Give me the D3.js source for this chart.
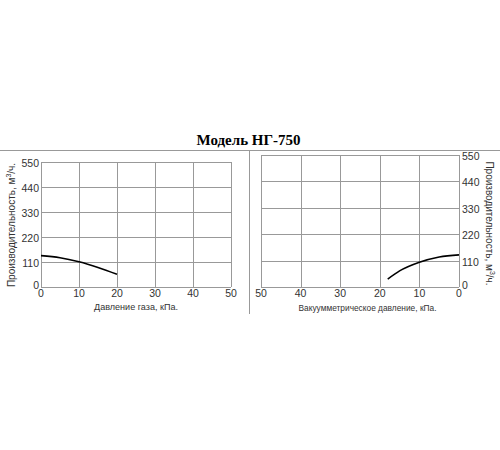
<!DOCTYPE html>
<html>
<head>
<meta charset="utf-8">
<script src="https://cdn.jsdelivr.net/npm/d3@7"></script>
<style>
  body { margin: 0; background: #fff; }
  text { font-family: Arial, "Liberation Sans", sans-serif; }
</style>
</head>
<body>
<script>
// chart data
const xTicks = [0, 10, 20, 30, 40, 50];
const yTicks = [0, 110, 220, 330, 440, 550];
const gasPressure = [0, 5, 10, 15, 20];
const gasFlow = [138, 129, 111, 86, 56];
const vacPressure = [0, 5, 10, 15, 18];
const vacFlow = [134, 125, 103, 67, 33];

const width = 500, height = 450;
const gridColor = '#999';
const labelColor = '#333';

var svg = d3.select('body')
    .append('svg')
    .attr('width', width)
    .attr('height', height);

// title + separators
svg.append('text')
    .attr('x', 248.5)
    .attr('y', 145)
    .attr('text-anchor', 'middle')
    .style('font-family', '"Times New Roman", "Liberation Serif", serif')
    .attr('font-weight', 'bold')
    .attr('font-size', 15)
    .attr('fill', '#000')
    .text('Модель НГ-750');

svg.append('line')
    .attr('x1', 0).attr('x2', width)
    .attr('y1', 150.5).attr('y2', 150.5)
    .attr('stroke', gridColor);

svg.append('line')
    .attr('x1', 249.5).attr('x2', 249.5)
    .attr('y1', 150).attr('y2', 314)
    .attr('stroke', gridColor);

function drawPanel(p) {
    var x = d3.scaleLinear().domain(p.xDomain).range([p.left, p.right]);
    var y = d3.scaleLinear().domain([0, 550]).range([p.bottom, p.top]);
    var g = svg.append('g');

    // grid
    g.selectAll('.vgrid')
        .data(xTicks)
        .join('line')
        .attr('x1', d => Math.round(x(d)) + 0.5)
        .attr('x2', d => Math.round(x(d)) + 0.5)
        .attr('y1', p.top).attr('y2', p.bottom)
        .attr('stroke', gridColor);

    g.selectAll('.hgrid')
        .data(yTicks)
        .join('line')
        .attr('x1', p.left).attr('x2', p.right)
        .attr('y1', d => Math.round(y(d)) + 0.5)
        .attr('y2', d => Math.round(y(d)) + 0.5)
        .attr('stroke', gridColor);

    // tick labels
    g.selectAll('.xlab')
        .data(xTicks)
        .join('text')
        .attr('x', d => x(d))
        .attr('y', p.bottom + 9.5)
        .attr('text-anchor', 'middle')
        .attr('font-size', 10.5)
        .attr('fill', labelColor)
        .text(d => d);

    g.selectAll('.ylab')
        .data(yTicks)
        .join('text')
        .attr('x', p.yLabelX)
        .attr('y', d => y(d) + (d == 0 ? 1.5 : 5))
        .attr('text-anchor', p.yAnchor)
        .attr('font-size', 10.5)
        .attr('fill', labelColor)
        .text(d => d);

    // curve
    var line = d3.line()
        .x(d => x(d[0]))
        .y(d => y(d[1]))
        .curve(d3.curveMonotoneX);

    g.append('path')
        .datum(d3.zip(p.xs, p.ys))
        .attr('d', line)
        .attr('fill', 'none')
        .attr('stroke', '#000')
        .attr('stroke-width', 1.6);

    // axis titles
    g.append('text')
        .attr('x', p.xTitleX)
        .attr('y', p.xTitleY)
        .attr('text-anchor', 'middle')
        .attr('font-size', 9.5)
        .attr('textLength', p.xTitleLen)
        .attr('lengthAdjust', 'spacingAndGlyphs')
        .attr('fill', labelColor)
        .text(p.xTitle);

    var yt = g.append('text')
        .attr('transform', 'translate(' + p.yTitleX + ',' + p.yTitleY + ') rotate(' + p.yRotate + ')')
        .attr('text-anchor', 'middle')
        .attr('font-size', 10)
        .attr('fill', labelColor);
    yt.append('tspan').text('Производительность, м');
    yt.append('tspan').attr('font-size', 7).attr('dy', -4).text('3');
    yt.append('tspan').attr('dy', 4).text('/ч.');
}

drawPanel({
    left: 41, right: 231, top: 162, bottom: 287,
    xDomain: [0, 50],
    xs: gasPressure, ys: gasFlow,
    yLabelX: 39, yAnchor: 'end',
    xTitle: 'Давление газа, кПа.', xTitleX: 136, xTitleY: 310, xTitleLen: 84,
    yTitleX: 15, yTitleY: 225, yRotate: -90
});

drawPanel({
    left: 261, right: 459, top: 155, bottom: 287,
    xDomain: [50, 0],
    xs: vacPressure, ys: vacFlow,
    yLabelX: 462, yAnchor: 'start',
    xTitle: 'Вакуумметрическое давление, кПа.', xTitleX: 367.5, xTitleY: 311, xTitleLen: 138,
    yTitleX: 486, yTitleY: 223.5, yRotate: 90
});
</script>
</body>
</html>
